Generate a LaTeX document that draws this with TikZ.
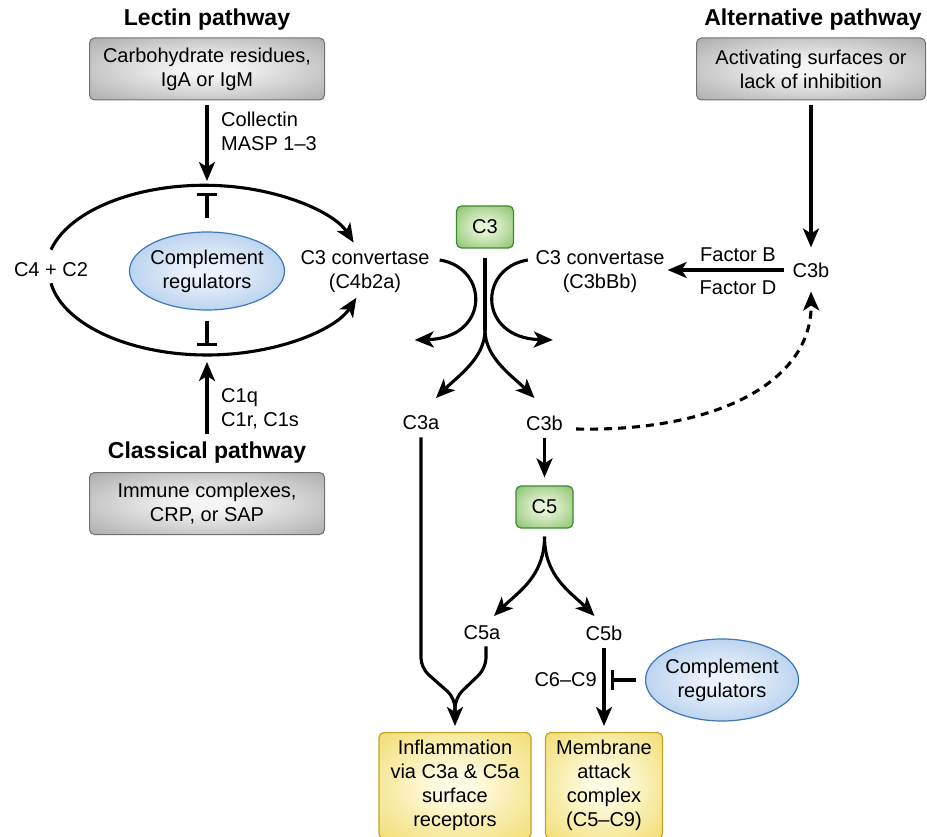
\documentclass[tikz,border=0pt]{standalone}
\usepackage{fontspec}
\setmainfont{Liberation Sans}
\usetikzlibrary{arrows.meta,shapes.geometric,calc}
\definecolor{grayin}{HTML}{F4F4F4}
\definecolor{grayout}{HTML}{8A8A8A}
\definecolor{grayline}{HTML}{707070}
\definecolor{greenin}{HTML}{E6F4D6}
\definecolor{greenout}{HTML}{5DAA3A}
\definecolor{greenline}{HTML}{3B8A2C}
\definecolor{yelin}{HTML}{FFFBE2}
\definecolor{yelout}{HTML}{EBCF3E}
\definecolor{yelline}{HTML}{C2A21E}
\definecolor{bluein}{HTML}{EAF2FC}
\definecolor{blueout}{HTML}{80AEE0}
\definecolor{blueline}{HTML}{3E76B8}
\colorlet{innerc}{white}
\colorlet{outerc}{gray}
\pgfdeclareradialshading[innerc,outerc]{softrad}{\pgfpoint{0bp}{0bp}}{color(0bp)=(innerc);color(6bp)=(innerc);color(50bp)=(outerc);color(75bp)=(outerc)}
\begin{document}
\begin{tikzpicture}[x=1pt,y=-1pt,
 every node/.style={font=\fontsize{20}{24}\selectfont,align=center,inner sep=0pt},
 ttl/.style={font=\fontsize{23}{27}\selectfont\bfseries},
 shadebox/.style 2 args={/utils/exec={\colorlet{innerc}{#1}\colorlet{outerc}{#2}},shading=softrad},
 graybox/.style={shadebox={grayin}{grayout},draw=grayline,line width=1pt,rounded corners=5pt,minimum height=62pt},
 greenbox/.style={shadebox={greenin}{greenout},draw=greenline,line width=1.2pt,rounded corners=5pt,minimum width=57pt,minimum height=42pt},
 yelbox/.style={shadebox={yelin}{yelout},draw=yelline,line width=1.2pt,rounded corners=5pt,anchor=north,minimum height=106pt},
 regell/.style={ellipse,shadebox={bluein}{blueout},draw=blueline,line width=1.2pt,inner xsep=-8pt,minimum width=155pt,minimum height=78pt},
 conn/.style={line width=3.1pt},
 arr/.style={conn,-{Stealth[length=19pt,width=16pt,inset=5pt]}},
 inh/.style={conn,-{Bar[width=20pt]}},
 dotarr/.style={arr,dash pattern=on 8pt off 6pt}
]
\useasboundingbox (0,0) rectangle (927,837);
\clip (0,0) rectangle (927,837);

% Lectin pathway
\node[ttl] (lectitle) at (207,20) {Lectin pathway};
\node[graybox,minimum width=235pt] (lecbox) at (207,69) {Carbohydrate residues,\\IgA or IgM};
\coordinate (looptop) at (207,181);
\draw[arr,shorten <=5pt] (lecbox) -- (looptop);
\node[anchor=west,align=left] (collectin) at (221,131) {Collectin\\MASP 1–3};

% loop
\node (c4c2) at (51,270) {C4 + C2};
\draw[arr] ([yshift=13pt]c4c2.north) arc[start angle=194,end angle=341,x radius=158,y radius=85];
\draw[arr] ([yshift=-6pt]c4c2.south) arc[start angle=171,end angle=19,x radius=158,y radius=85];
\node[regell] (reg1) at (207,271) {Complement\\regulators};
\coordinate (bar1) at (207,193);
\coordinate (bar2) at (207,346);
\draw[inh,shorten <=13pt] (reg1) -- (bar1);
\draw[inh,shorten <=10pt] (reg1) -- (bar2);
\node (conv1) at (365,272) {C3 convertase\\(C4b2a)};

% Classical pathway
\coordinate (loopbot) at (207,362);
\node[ttl] (clatitle) at (207,453) {Classical pathway};
\draw[arr] ([yshift=8pt]clatitle.north) -- (loopbot);
\node[anchor=west,align=left] (c1q) at (221,409) {C1q\\C1r, C1s};
\node[graybox,minimum width=235pt] (clabox) at (207,503.5) {Immune complexes,\\CRP, or SAP};

% Alternative pathway
\node[ttl] (alttitle) at (813,20) {Alternative pathway};
\node[graybox,minimum width=229pt] (altbox) at (811,69) {Activating surfaces or\\lack of inhibition};
\node (c3balt) at (811,270) {C3b};
\draw[arr,shorten <=5pt,shorten >=15pt] (altbox) -- (c3balt);
\node (conv2) at (600,272) {C3 convertase\\(C3bBb)};
\draw[arr,shorten <=8pt,shorten >=3pt] (c3balt.west |- c3balt) -- (conv2.east |- c3balt);
\node (facB) at (738,255) {Factor B};
\node (facD) at (738,288) {Factor D};

% C3 cleavage
\node[greenbox] (c3) at (485,227) {C3};
\coordinate (c3split) at (485,330);
\draw[conn,shorten <=9pt] (c3) -- (c3split);
\node (c3a) at (421,423) {C3a};
\node (c3b) at (544.5,423) {C3b};
\draw[arr] (c3split) .. controls +(0,28) and +(22,-22) .. ($(c3a)+(15,-25)$);
\draw[arr] (c3split) .. controls +(0,28) and +(-22,-22) .. ($(c3b)+(-10,-25)$);
\draw[arr] ($(conv1.east)+(10,-12)$) .. controls +(50,8) and +(75,-2) .. ($(conv1.east)+(-15,68)$);
\draw[arr] ($(conv2.west)+(-7.5,-12)$) .. controls +(-50,8) and +(-75,-2) .. ($(conv2.west)+(17.5,68)$);
\draw[dotarr] ($(c3b.east)+(13,6)$) .. controls (720,432) and (812,380) .. ($(c3balt.south)+(0,14)$);

% C5
\node[greenbox] (c5) at (544.5,507) {C5};
\draw[arr,shorten <=7pt,shorten >=8pt] (c3b) -- (c5);
\node (c5a) at (482,633) {C5a};
\node (c5b) at (604,633) {C5b};
\draw[arr] ([yshift=-8pt]c5.south) .. controls +(0,40) and +(24,-24) .. ($(c5a)+(12,-17)$);
\draw[arr] ([yshift=-8pt]c5.south) .. controls +(0,40) and +(-24,-24) .. ($(c5b)+(-9.5,-17)$);

% outputs
\node[yelbox,minimum width=152pt] (infl) at (455,732) {Inflammation\\via C3a \& C5a\\surface\\receptors};
\node[yelbox,minimum width=117pt] (mac) at (604,732) {Membrane\\attack\\complex\\(C5–C9)};
\draw[arr,rounded corners=10pt] ($(c3a.south)+(0,7)$) -- (421,668) -- (455,698) -- ($(infl.north)+(0,-6)$);
\draw[conn,rounded corners=10pt] ($(c5a.south)+(4,6)$) -- (486,668) -- (455,698) -- (455,712);
\draw[arr,shorten <=7pt,shorten >=6pt] (c5b) -- (mac);
\node[regell,minimum width=153pt,minimum height=82pt] (reg2) at (722,680) {Complement\\regulators};
\coordinate (bar3) at (611,680);
\draw[inh,shorten <=9pt] (reg2) -- (bar3);
\node[anchor=east] (c6c9) at (597,680) {C6–C9};
\end{tikzpicture}
\end{document}
